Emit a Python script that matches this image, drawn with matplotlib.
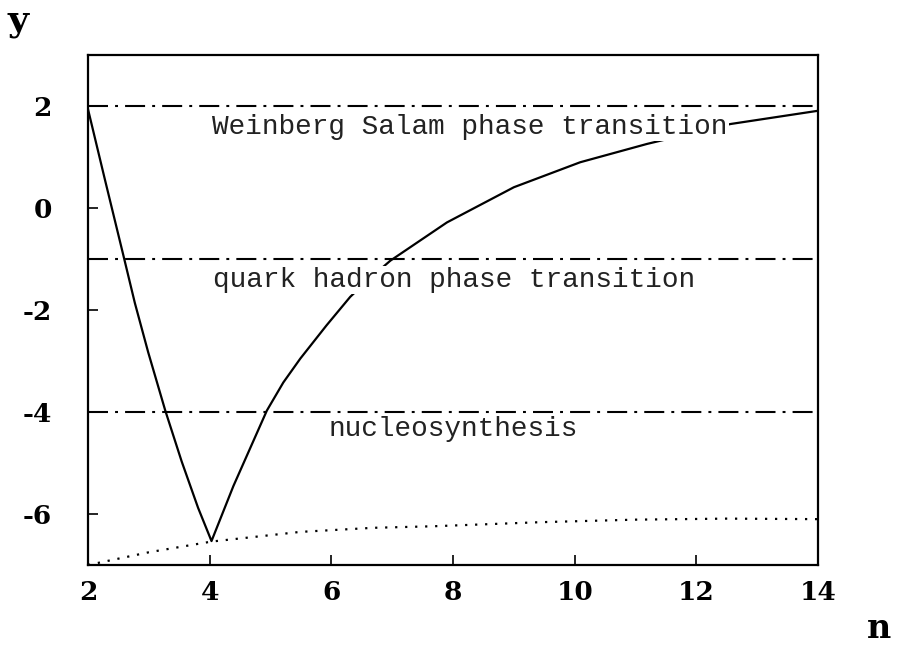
import matplotlib
matplotlib.use("Agg")
import matplotlib.pyplot as plt

# | Data |------------------------------------------------------------------|
curve_n = [2.0, 2.28, 2.58, 2.77, 2.99, 3.27, 3.54, 3.81, 4.03,
           4.39, 4.94, 5.21, 5.49, 5.92, 6.31, 6.64, 6.97, 7.90, 9.00, 10.09,
           11.19, 12.56, 14.0]
curve_y = [1.94, 0.55, -0.92, -1.86, -2.83, -3.97, -4.97, -5.88, -6.53,
           -5.45, -3.97, -3.42, -2.95, -2.30, -1.74, -1.37, -1.03, -0.28, 0.41, 0.90,
           1.26, 1.65, 1.91]

dotted_n = [2.0, 3.0, 4.03, 5.49, 6.69, 7.67, 9.43, 11.0, 12.5, 14.0]
dotted_y = [-7.0, -6.75, -6.54, -6.35, -6.27, -6.24, -6.16, -6.11, -6.09, -6.1]

levels      = [2.0, -1.0, -4.0]
level_names = ["Weinberg Salam phase transition",
               "quark hadron phase transition",
               "nucleosynthesis"]
label_pos   = [(4.04, 1.59), (4.05, -1.41), (5.95, -4.33)]

x_ticks = [2, 4, 6, 8, 10, 12, 14]
y_ticks = [2, 0, -2, -4, -6]
# |--------------------------------------------------------------------------|

fig = plt.figure(figsize=(8.98, 6.47), dpi=100)
ax = fig.add_axes([0.098, 0.1267, 0.813, 0.788])

for lv in levels:
    ax.axhline(lv, color="black", linewidth=1.5, dashes=(9.6, 3.4, 1.4, 3.4), zorder=1)

ax.plot(curve_n, curve_y, color="black", linewidth=1.6, zorder=2,
        solid_joinstyle="round")
ax.plot(dotted_n, dotted_y, color="black", linewidth=1.6,
        linestyle=(0, (1, 3.5)), zorder=2)

for name, (px, py) in zip(level_names, label_pos):
    ax.text(px, py, name, family="Liberation Mono", fontsize=20, color="#222222",
            ha="left", va="center", zorder=3,
            bbox=dict(facecolor="white", edgecolor="none", pad=1.0))

ax.set_xlim(2, 14)
ax.set_ylim(-7, 3)
ax.set_xticks(x_ticks)
ax.set_yticks(y_ticks)
ax.set_xticklabels([str(t) for t in x_ticks])
ax.set_yticklabels([str(t) for t in y_ticks])

ax.tick_params(direction="in", length=7, width=1.2, top=False, right=False)
ax.tick_params(axis="x", pad=11)
ax.tick_params(axis="y", pad=26)
for lab in ax.get_xticklabels() + ax.get_yticklabels():
    lab.set_family("DejaVu Serif")
    lab.set_fontweight("bold")
    lab.set_fontsize(19)

for sp in ax.spines.values():
    sp.set_linewidth(1.6)

fig.text(18 / 898, 1 - 30 / 647, "y", family="DejaVu Serif", fontweight="bold",
         fontsize=26, ha="center", va="baseline")
fig.text(879 / 898, 1 - 638 / 647, "n", family="DejaVu Serif", fontweight="bold",
         fontsize=24, ha="center", va="baseline")

fig.savefig("out.png", dpi=100)
